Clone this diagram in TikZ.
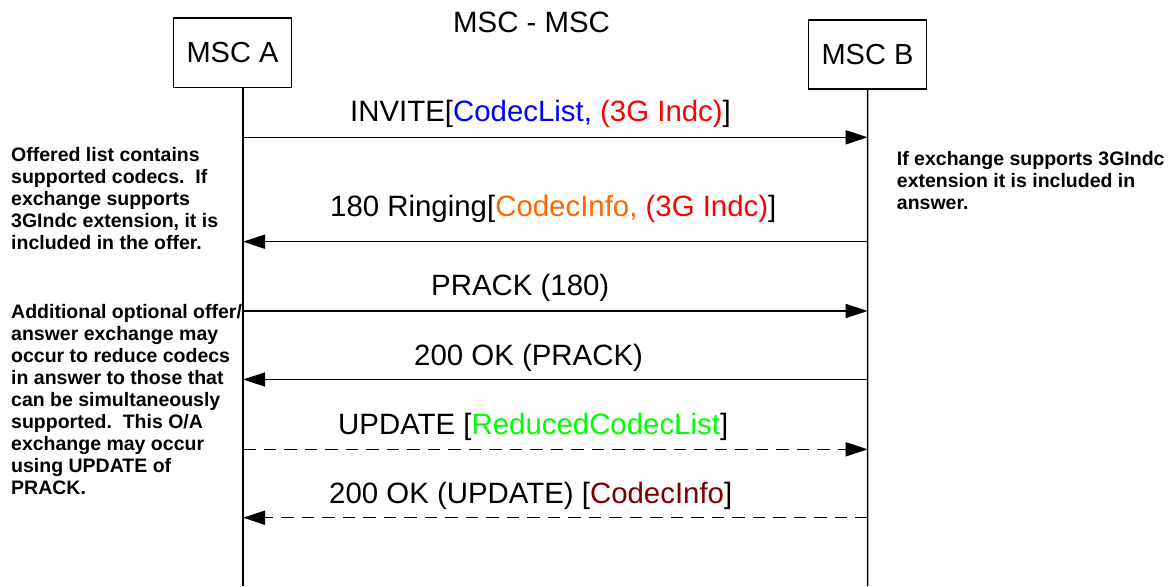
\documentclass[tikz,border=0pt]{standalone}
\usepackage{fontspec}
\setmainfont{Liberation Sans}
\usetikzlibrary{arrows.meta}
\definecolor{cblue}{RGB}{0,0,255}
\definecolor{cred}{RGB}{255,0,0}
\definecolor{corange}{RGB}{255,102,0}
\definecolor{cgreen}{RGB}{0,255,0}
\definecolor{cmaroon}{RGB}{128,0,0}
\begin{document}
\begin{tikzpicture}[x=1pt,y=-1pt,
  entity/.style={draw, line width=1.6pt, minimum width=118pt, minimum height=69pt,
    inner sep=0pt, font=\fontsize{29}{34}\selectfont},
  lifeline/.style={line width=1.5pt},
  msg/.style={line width=1.5pt, -{Triangle[length=22pt,width=14pt]}},
  optmsg/.style={msg, dash pattern=on 12.5pt off 8pt},
  lbl/.style={anchor=base west, inner sep=0pt, font=\fontsize{29.4}{34}\selectfont},
  note/.style={anchor=north west, inner sep=0pt, align=left,
    font=\bfseries\fontsize{19.5}{22}\selectfont}]
\useasboundingbox (0,0) rectangle (1174,586);

% title and the two exchanges
\node[lbl] (title) at (453,32.3) {MSC - MSC};
\node[entity] (mscA) at (232.5,52.8) {MSC A};
\node[entity] (mscB) at (867.5,54.7) {MSC B};

% lifelines
\coordinate (endA) at (243,586);
\coordinate (endB) at (867.7,586);
\draw[lifeline] (mscA.south -| endA) -- (endA);
\draw[lifeline] (mscB.south) -- (endB);

% message end points on the lifelines
\foreach \n/\y in {1/137.3, 2/241.7, 3/311, 4/379.5, 5/449.3, 6/517.7}{
  \coordinate (a\n) at (243,\y);
  \coordinate (b\n) at (867.7,\y);
}

% messages
\draw[msg] (a1) -- (b1);
\draw[msg] (b2) -- (a2);
\draw[msg] (a3) -- (b3);
\draw[msg] (b4) -- (a4);
\draw[optmsg] (a5) -- (b5);
\draw[optmsg] (b6) -- (a6);

% message labels
\node[lbl] (l1) at (350,121.7) {INVITE[\textcolor{cblue}{CodecList,} \textcolor{cred}{(3G Indc)}]};
\node[lbl] (l2) at (330,216.7) {180 Ringing[\textcolor{corange}{CodecInfo,} \textcolor{cred}{(3G Indc)}]};
\node[lbl] (l3) at (431,295) {PRACK (180)};
\node[lbl] (l4) at (414,365) {200 OK (PRACK)};
\node[lbl] (l5) at (338,434.3) {UPDATE [\textcolor{cgreen}{ReducedCodecList}]};
\node[lbl] (l6) at (329,503.3) {200 OK (UPDATE) [\textcolor{cmaroon}{CodecInfo}]};

% side notes
\node[note] (n1) at (11,147.5) {Offered list contains\\supported codecs.\ \ If\\exchange supports\\3GIndc extension, it is\\included in the offer.};
\node[note] (n2) at (11,304.5) {Additional optional offer/\\answer exchange may\\occur to reduce codecs\\in answer to those that\\can be simultaneously\\supported.\ \ This O/A\\exchange may occur\\using UPDATE of\\PRACK.};
\node[note] (n3) at (896.7,150.8) {If exchange supports 3GIndc\\extension it is included in\\answer.};
\end{tikzpicture}
\end{document}
